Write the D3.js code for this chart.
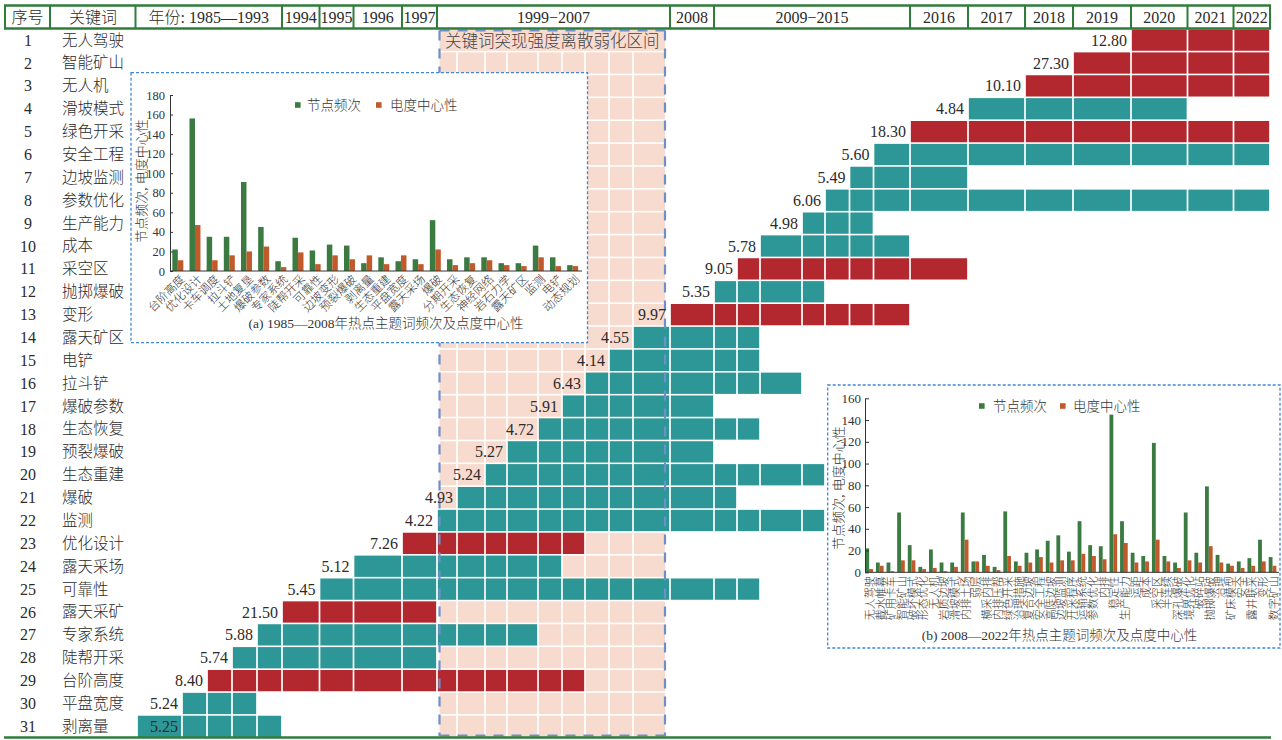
<!DOCTYPE html>
<html><head><meta charset="utf-8">
<script src="https://cdn.jsdelivr.net/npm/d3@7"></script>
<style>
body{margin:0;background:#fff;}
svg{display:block;font-family:"Liberation Serif","Noto Sans CJK SC",serif;font-weight:300;}
</style></head><body>
<svg id="c" width="1282" height="740"></svg>
<script>
// ---------------- data ----------------
const rowNo = d3.range(1, 32);
const keywords = ["无人驾驶","智能矿山","无人机","滑坡模式","绿色开采","安全工程","边坡监测","参数优化","生产能力","成本","采空区","抛掷爆破","变形","露天矿区","电铲","拉斗铲","爆破参数","生态恢复","预裂爆破","生态重建","爆破","监测","优化设计","露天采场","可靠性","露天采矿","专家系统","陡帮开采","台阶高度","平盘宽度","剥离量"];
const strengths = [12.80,27.30,10.10,4.84,18.30,5.60,5.49,6.06,4.98,5.78,9.05,5.35,9.97,4.55,4.14,6.43,5.91,4.72,5.27,5.24,4.93,4.22,7.26,5.12,5.45,21.50,5.88,5.74,8.40,5.24,5.25];
const burstStart = [2020,2019,2018,2017,2016,2015,2014,2013,2012,2011,2010,2009,2008,2007,2006,2005,2004,2003,2002,2001,2000,1999,1997,1996,1995,1994,1993,1991,1989,1987,1985];
const burstEnd   = [2022,2022,2022,2020,2022,2022,2016,2022,2014,2015,2016,2012,2015,2010,2010,2011,2008,2010,2008,2012,2009,2012,2004,2003,2010,1997,2002,1997,2004,1991,1993];
const yearCols = [1985,1987,1989,1991,1993,1994,1995,1996,1997,1999,2000,2001,2002,2003,2004,2005,2006,2007,2008,2009,2010,2011,2012,2013,2014,2015,2016,2017,2018,2019,2020,2021,2022];
const headerLabels = ["年份: 1985—1993","1994","1995","1996","1997","1999−2007","2008","2009−2015","2016","2017","2018","2019","2020","2021","2022"];
const headerFrom   = [1985,1994,1995,1996,1997,1999,2008,2009,2016,2017,2018,2019,2020,2021,2022];
const headerTo     = [1993,1994,1995,1996,1997,2007,2008,2015,2016,2017,2018,2019,2020,2021,2022];
const weakYears = [1999,2007];
const weakLabel = "关键词突现强度离散弱化区间";

const catsA = ["台阶高度","优化设计","卡车调度","拉斗铲","土地复垦","爆破参数","专家系统","陡帮开采","可靠性","边坡变形","预裂爆破","剥离量","生态重建","平盘宽度","露天采场","爆破","分期开采","生态恢复","神经网络","岩石力学","露天矿区","监测","电铲","动态规划"];
const freqA = [22,156,35,35,91,45,10,34,21,27,26,8,14,10,12,52,12,14,14,8,8,26,14,6];
const centA = [11,47,11,16,20,25,4,19,7,16,12,16,7,16,7,22,6,8,11,6,5,14,5,5];

const catsB = ["无人驾驶","截水帷幕","矿用卡车","智能矿山","破坏模式","形态优化","无人机","岩质边坡","滑坡模式","内排土场","弱层","横采内排","内排压帮","绿色开采","治理措施","复合边坡","安全工程","高陡边坡","边坡监测","开采程序","运输系统","参数优化","内排","稳定性","生产能力","运距","成本","采空区","半连续","深孔爆破","境界优化","破碎站","抛掷爆破","治理","矿床模型","安全","露井联采","变形","数字矿山"];
const freqB = [22,9,9,55,25,5,21,9,9,55,10,16,5,56,10,18,21,29,34,19,47,25,24,145,47,18,15,119,15,9,55,18,79,16,8,10,13,30,14];
const centB = [3,6,1,11,11,3,4,1,5,30,10,6,2,15,6,9,14,9,11,11,17,15,12,35,27,9,10,30,10,4,11,9,24,9,6,4,6,10,6];

const seriesNames = ["节点频次","电度中心性"];
const yTitle = "节点频次, 电度中心性";
const captionA = "(a) 1985—2008年热点主题词频次及点度中心性";
const captionB = "(b) 2008—2022年热点主题词频次及点度中心性";

// ---------------- layout ----------------
const svg = d3.select("#c");
const C = {teal:"#2c9796", red:"#b3282f", peach:"#f8dbcf", green:"#2f7d3b", dash:"#6f8fc9",
           text:"#2b2b2b", barG:"#3b7b42", barO:"#c15a2b", box:"#3f88d6"};
const colEdges = [137,182,207,232,257,282,319.5,353.5,402,437,457,485,507,538,562,585,609,633,670,714,737,760,802,825,849.5,873.5,910,968,1025,1073,1131,1187.5,1233.5,1270];
const colLeft = d3.scaleOrdinal().domain(yearCols).range(colEdges.slice(0, -1));
const colRight = d3.scaleOrdinal().domain(yearCols).range(colEdges.slice(1));
const y = d3.scaleBand().domain(rowNo).range([29.5, 737]).paddingInner(0.07);
const bw = y.bandwidth();
const gap = 0.85;
const weakL = 439.5, weakR = 665;

const rows = rowNo.map((n, i) => ({n, kw: keywords[i], s: strengths[i], a: burstStart[i], b: burstEnd[i]}));
const weakCols = yearCols.filter(v => v >= weakYears[0] && v <= weakYears[1]);

// peach band cells
const gPeach = svg.append("g");
rows.forEach(r => {
  if (r.n === 1) {
    gPeach.append("rect").attr("x", weakL).attr("y", y(1)).attr("width", weakR - weakL).attr("height", bw).attr("fill", C.peach);
    return;
  }
  weakCols.forEach(c => {
    const x0 = Math.max(colLeft(c) + gap, weakL), x1 = Math.min(colRight(c) - gap, weakR);
    gPeach.append("rect").attr("x", x0).attr("y", y(r.n)).attr("width", x1 - x0).attr("height", bw).attr("fill", C.peach);
  });
});
svg.append("text").attr("x", (weakL + weakR) / 2).attr("y", y(1) + bw / 2 + 1).attr("dy", "0.35em")
  .attr("text-anchor", "middle").attr("font-size", 16.5).attr("fill", "#444").text(weakLabel);

// burst cells
const gCells = svg.append("g");
rows.forEach(r => {
  const cols = yearCols.filter(v => v >= r.a && v <= r.b);
  const col = r.s >= 7 ? C.red : C.teal;
  gCells.selectAll(null).data(cols).join("rect")
    .attr("x", c => colLeft(c) + gap).attr("y", y(r.n))
    .attr("width", c => colRight(c) - colLeft(c) - 2 * gap).attr("height", bw).attr("fill", col);
});

// dashed borders of weak band
const gD = svg.append("g").attr("stroke", C.dash).attr("stroke-width", 2.2).attr("stroke-dasharray", "10,8").attr("fill", "none");
gD.append("line").attr("x1", weakL).attr("x2", weakL).attr("y1", 30.5).attr("y2", 736);
gD.append("line").attr("x1", weakR).attr("x2", weakR).attr("y1", 30.5).attr("y2", 736);
gD.append("line").attr("x1", weakL).attr("x2", weakR).attr("y1", 30.5).attr("y2", 30.5);
gD.append("line").attr("x1", weakL).attr("x2", weakR).attr("y1", 735.5).attr("y2", 735.5);

// row labels
const gT = svg.append("g").attr("fill", C.text).attr("font-size", 16);
rows.forEach(r => {
  const cy = y(r.n) + bw / 2;
  gT.append("text").attr("x", 28).attr("y", cy).attr("dy", "0.35em").attr("text-anchor", "middle").text(r.n);
  gT.append("text").attr("x", 62).attr("y", cy).attr("dy", "0.35em").attr("font-size", 15.5).text(r.kw);
  const inside = r.a === yearCols[0];
  gT.append("text").attr("x", inside ? colRight(r.a) - 4 : colLeft(r.a) - 4).attr("y", cy).attr("dy", "0.35em")
    .attr("text-anchor", "end").text(r.s.toFixed(2));
});

// header
const gH = svg.append("g");
const hTop = 5.5, hBot = 28.5, hMid = (hTop + hBot) / 2;
gH.append("line").attr("x1", 4).attr("x2", 1271).attr("y1", hTop).attr("y2", hTop).attr("stroke", C.green).attr("stroke-width", 2.6);
gH.append("line").attr("x1", 4).attr("x2", 1271).attr("y1", hBot).attr("y2", hBot).attr("stroke", C.green).attr("stroke-width", 2.6);
gH.append("line").attr("x1", 4).attr("x2", 1271).attr("y1", 737.5).attr("y2", 737.5).attr("stroke", C.green).attr("stroke-width", 2.6);
const vlines = [5, 50, 135.5].concat(headerTo.map(t => colRight(t)));
vlines.forEach(x => gH.append("line").attr("x1", x).attr("x2", x).attr("y1", hTop).attr("y2", hBot).attr("stroke", C.green).attr("stroke-width", 2));
gH.append("text").attr("x", 27.5).attr("y", hMid).attr("dy", "0.36em").attr("text-anchor", "middle").attr("font-size", 16).attr("fill", C.text).text("序号");
gH.append("text").attr("x", 93).attr("y", hMid).attr("dy", "0.36em").attr("text-anchor", "middle").attr("font-size", 16).attr("fill", C.text).text("关键词");
headerLabels.forEach((lab, i) => {
  const x0 = i === 0 ? 135.5 : colLeft(headerFrom[i]);
  const x1 = colRight(headerTo[i]);
  gH.append("text").attr("x", (x0 + x1) / 2).attr("y", hMid).attr("dy", "0.36em").attr("text-anchor", "middle")
    .attr("font-size", 16).attr("fill", C.text).text(lab);
});

// ---------------- insets ----------------
function drawInset(o) {
  const g = svg.append("g");
  g.append("rect").attr("x", o.box[0]).attr("y", o.box[1]).attr("width", o.box[2] - o.box[0]).attr("height", o.box[3] - o.box[1])
    .attr("fill", "#fff").attr("stroke", o.boxColor).attr("stroke-width", 1.3).attr("stroke-dasharray", "3,2");
  const x = d3.scaleBand().domain(o.cats).range(o.xr);
  const b = x.bandwidth();
  const sub = d3.scaleBand().domain(seriesNames).range([b * o.sub[0], b * o.sub[1]]);
  const yy = d3.scaleLinear().domain([0, o.max]).range(o.yr);
  const data = o.cats.map((c, i) => ({c, v: [o.f[i], o.ce[i]]}));
  const gb = g.append("g");
  data.forEach(d => {
    seriesNames.forEach((s, k) => {
      gb.append("rect").attr("x", x(d.c) + sub(s)).attr("y", yy(d.v[k])).attr("width", sub.bandwidth())
        .attr("height", yy(0) - yy(d.v[k])).attr("fill", k === 0 ? C.barG : C.barO);
    });
  });
  const ax = g.append("g").attr("transform", `translate(${o.xr[0]},0)`)
    .call(d3.axisLeft(yy).tickValues(d3.range(0, o.max + 1, 20)).tickSize(-o.tick).tickSizeOuter(0).tickPadding(o.pad));
  ax.select(".domain").attr("stroke", "#333");
  ax.selectAll(".tick line").attr("stroke", "#333");
  ax.selectAll("text").attr("font-family", "Liberation Serif").attr("font-size", o.tickFont).attr("fill", "#333");
  g.append("line").attr("x1", o.xr[0]).attr("x2", o.xr[1]).attr("y1", yy(0)).attr("y2", yy(0)).attr("stroke", "#333");
  g.selectAll(null).data(o.cats).join("text")
    .attr("transform", c => `translate(${x(c) + b / 2 + o.labDx},${yy(0) + o.labDy}) rotate(${o.rot})`)
    .attr("text-anchor", "end").attr("dy", "0.35em").attr("font-size", o.labFont).attr("fill", "#333").text(c => c);
  g.append("text").attr("transform", `translate(${o.title[0]},${o.title[1]}) rotate(-90)`).attr("text-anchor", "middle")
    .attr("dy", "0.35em").attr("font-size", o.titleFont).attr("fill", "#333").text(yTitle);
  // legend
  seriesNames.forEach((s, k) => {
    g.append("rect").attr("x", o.leg[k][0]).attr("y", o.legY - 2.8).attr("width", 5.6).attr("height", 5.6).attr("fill", k === 0 ? C.barG : C.barO);
    g.append("text").attr("x", o.leg[k][1]).attr("y", o.legY).attr("dy", "0.35em").attr("font-size", o.legFont).attr("fill", "#333").text(s);
  });
  g.append("text").attr("x", o.cap[0]).attr("y", o.cap[1]).attr("dy", "0.35em").attr("text-anchor", "middle")
    .attr("font-size", o.capFont).attr("fill", "#333").text(o.caption);
}

drawInset({cats: catsA, f: freqA, ce: centA, box: [131, 72.7, 587.5, 342.7], boxColor: C.box,
  xr: [170, 582], yr: [271, 95], max: 180, sub: [0.135, 0.775], tick: 3, pad: 5, tickFont: 12.5,
  labDx: 4, labDy: 6, rot: -45, labFont: 11.5, title: [141, 181], titleFont: 13,
  leg: [[295, 307], [376, 390]], legY: 105, legFont: 13.5, cap: [386, 323], capFont: 13.5, caption: captionA});

drawInset({cats: catsB, f: freqB, ce: centB, box: [827.7, 385, 1280, 648], boxColor: C.box,
  xr: [865, 1279], yr: [572.3, 398.3], max: 160, sub: [0.03, 0.75], tick: 4, pad: 4, tickFont: 13,
  labDx: 0, labDy: 4, rot: -90, labFont: 11, title: [838, 488], titleFont: 13,
  leg: [[979, 993], [1060, 1073]], legY: 406, legFont: 13.5, cap: [1059.5, 635], capFont: 13.5, caption: captionB});
</script>
</body></html>
